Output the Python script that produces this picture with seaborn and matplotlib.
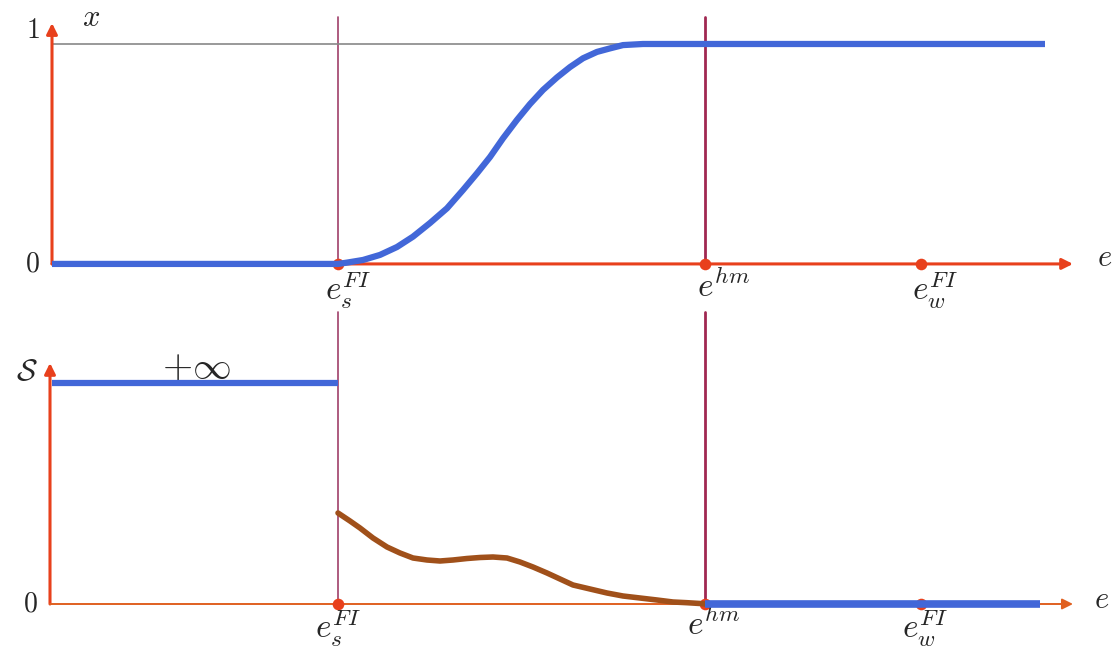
import matplotlib
matplotlib.use("Agg")
import matplotlib.pyplot as plt
import seaborn as sns

# key abscissae on the e axis
e_s = 2.86
e_hm = 6.53
e_w = 8.69
e_end = 9.93
e_arrow = 10.21

# top panel: x(e)
curve_e = [2.86, 2.95, 3.11, 3.28, 3.45, 3.61, 3.78, 3.95, 4.11, 4.25, 4.38, 4.51,
           4.65, 4.78, 4.91, 5.05, 5.18, 5.31, 5.45, 5.58, 5.71, 5.91]
curve_x = [0.0, 0.006, 0.018, 0.041, 0.077, 0.124, 0.186, 0.253, 0.336, 0.412, 0.486, 0.571,
           0.655, 0.727, 0.791, 0.848, 0.895, 0.935, 0.964, 0.980, 0.995, 1.0]

# bottom panel: S(e) between e_s and e_hm
s_e = [2.86, 2.98, 3.08, 3.21, 3.35, 3.48, 3.61, 3.75, 3.88, 4.01, 4.15, 4.28, 4.41, 4.55,
       4.68, 4.81, 4.95, 5.08, 5.21, 5.38, 5.55, 5.71, 5.88, 6.05, 6.21, 6.35, 6.48, 6.53]
s_val = [0.91, 0.83, 0.76, 0.66, 0.57, 0.51, 0.46, 0.44, 0.43, 0.44, 0.455, 0.465, 0.47, 0.46,
         0.42, 0.37, 0.31, 0.25, 0.19, 0.15, 0.11, 0.08, 0.06, 0.04, 0.02, 0.013, 0.005, 0.0]
s_inf = 2.21

sns.set_style("white")
plt.rcParams["mathtext.fontset"] = "cm"

BLUE = "#4267d8"
RED = "#e8401c"
MAROON = "#a0406a"
MAROON2 = "#a02852"
BROWN = "#a0501a"

fig = plt.figure(figsize=(11.14, 6.52), dpi=100)
ax1 = fig.add_axes([0, 352 / 652, 1, 300 / 652])
ax2 = fig.add_axes([0, 0, 1, 352 / 652])
for ax in (ax1, ax2):
    ax.axis("off")
    ax.set_xlim(-0.52, 10.62)
ax1.set_ylim(-0.164, 1.2)
ax2.set_ylim(-0.48, 3.04)

arrow_kw = dict(arrowstyle="-|>", color=RED, lw=2.2, mutation_scale=16, shrinkA=0, shrinkB=0)
line_kw = dict(estimator=None, sort=False, solid_joinstyle="round", solid_capstyle="butt")

# ---- top panel ----
ax1.plot([e_s, e_s], [0, 1.123], color=MAROON, lw=1.2, zorder=1)
ax1.plot([e_hm, e_hm], [0, 1.123], color=MAROON2, lw=2.0, zorder=1)
ax1.plot([0, e_hm], [1, 1], color="#888888", lw=1.2, zorder=1)
ax1.annotate("", xy=(0, 1.095), xytext=(0, 0), arrowprops=arrow_kw, zorder=2)
ax1.annotate("", xy=(e_arrow, 0), xytext=(0, 0), arrowprops=arrow_kw, zorder=2)
ax1.scatter([e_s, e_hm, e_w], [0, 0, 0], s=70, color=RED, zorder=3, linewidths=0)

top_e = [0.0] + curve_e + [e_end]
top_x = [0.0] + curve_x + [1.0]
sns.lineplot(x=top_e, y=top_x, ax=ax1, color=BLUE, lw=4.5, zorder=4, **line_kw)

ax1.text(-0.12, 1.0, "$1$", fontsize=20, ha="right", va="bottom")
ax1.text(-0.12, 0.0, "$0$", fontsize=20, ha="right", va="center")
ax1.text(0.3, 1.12, "$x$", fontsize=22, ha="left", va="center")
ax1.text(10.45, 0.03, "$e$", fontsize=22, ha="left", va="center")
ax1.text(2.73, -0.027, "$e_s^{FI}$", fontsize=24, ha="left", va="top")
ax1.text(6.45, -0.027, "$e^{hm}$", fontsize=24, ha="left", va="top")
ax1.text(8.60, -0.027, "$e_w^{FI}$", fontsize=24, ha="left", va="top")

# ---- bottom panel ----
ax2.plot([e_s, e_s], [0, 2.92], color=MAROON, lw=1.2, zorder=1)
ax2.plot([e_hm, e_hm], [0, 2.92], color=MAROON2, lw=2.0, zorder=1)
ax2.annotate("", xy=(-0.02, 2.41), xytext=(-0.02, 0), arrowprops=arrow_kw, zorder=2)
ax2.annotate("", xy=(e_arrow, 0), xytext=(-0.02, 0),
             arrowprops=dict(arrow_kw, color="#e06020", lw=1.4), zorder=2)
ax2.scatter([e_s, e_hm, e_w], [0, 0, 0], s=70, color=RED, zorder=3, linewidths=0)

sns.lineplot(x=[0.0, e_s], y=[s_inf, s_inf], ax=ax2, color=BLUE, lw=4.5, zorder=4, **line_kw)
sns.lineplot(x=s_e, y=s_val, ax=ax2, color=BROWN, lw=4.0, zorder=4,
             estimator=None, sort=False, solid_joinstyle="round", solid_capstyle="round")
sns.lineplot(x=[e_hm, 9.88], y=[0, 0], ax=ax2, color=BLUE, lw=5.5, zorder=4, **line_kw)

ax2.text(-0.14, 2.32, r"$\mathcal{S}$", fontsize=22, ha="right", va="center")
ax2.text(-0.14, 0.0, "$0$", fontsize=20, ha="right", va="center")
ax2.text(1.44, 2.37, r"$+\infty$", fontsize=28, ha="center", va="center")
ax2.text(10.42, 0.05, "$e$", fontsize=22, ha="left", va="center")
ax2.text(2.63, -0.04, "$e_s^{FI}$", fontsize=24, ha="left", va="top")
ax2.text(6.35, -0.04, "$e^{hm}$", fontsize=24, ha="left", va="top")
ax2.text(8.50, -0.04, "$e_w^{FI}$", fontsize=24, ha="left", va="top")

fig.savefig("out.png", dpi=100, facecolor="white")
